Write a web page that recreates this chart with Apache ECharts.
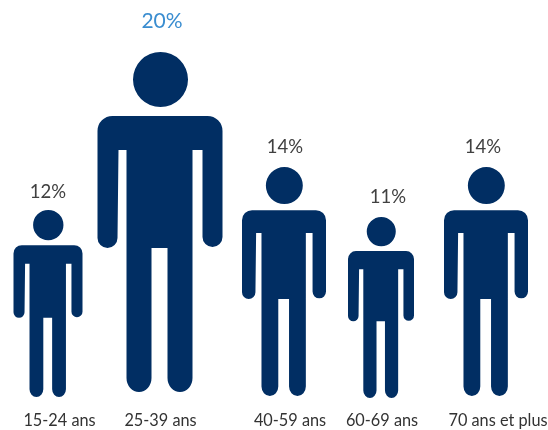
<!DOCTYPE html>
<html>
<head>
<meta charset="utf-8">
<style>html,body{margin:0;padding:0;background:#fff}#c{width:548px;height:430px}</style>
<script src="https://cdn.jsdelivr.net/npm/echarts@6/dist/echarts.min.js"></script>
</head>
<body>
<div id="c"></div>
<script>
const categories = ['15-24 ans', '25-39 ans', '40-59 ans', '60-69 ans', '70 ans et plus'];
const shares = [12, 20, 14, 11, 14];

// Person silhouette in a 125 x 340 box
const PERSON = 'path://M63,0 A27.5,27.5 0 1 1 63,55 A27.5,27.5 0 1 1 63,0 Z ' +
  'M15,64 L110,64 A15,15 0 0 1 125,79 L125,185 A10,10 0 0 1 105,185 L105,98 L95,98 L95,196 L95,326 A12.5,14 0 0 1 70,326 L70,196 L54,196 L54,326 A12.5,14 0 0 1 29,326 L29,98 L21,98 L20,186 A10,10 0 0 1 0,186 L0,79 A15,15 0 0 1 15,64 Z';

// Per-figure layout, kept apart from the data
const figureWidth = [69, 125, 84, 66, 84];
const figureHeightPct = ['91.7%', '100%', '96.2%', '96.8%', '96.2%'];
const figureOffset = [[0, -1], [2, -6], [16, -2], [3, 0], [-2, -2]];
const valueLabelOffset = [[0, 13], [4, -15], [17, 2], [10, 1], [-5, 2]];
const axisLabelShift = [23, 5, 44, 8, 20];

const chart = echarts.init(document.getElementById('c'), null, {renderer: 'canvas'});
chart.setOption({
  animation: false,
  backgroundColor: '#ffffff',
  grid: {left: -7, top: 0, width: 550, height: 398, outerBoundsMode: 'none'},
  xAxis: {
    type: 'category',
    data: categories.map((c, i) => ({
      value: c,
      textStyle: {padding: [0, 0, 0, axisLabelShift[i]]}
    })),
    axisLine: {show: false},
    axisTick: {show: false},
    axisLabel: {
      interval: 0, margin: 15, color: '#333333',
      fontFamily: 'Lato', fontSize: 16.3
    }
  },
  yAxis: {type: 'value', min: 0, max: 23.41, show: false},
  series: [{
    type: 'pictorialBar',
    symbol: PERSON,
    symbolPosition: 'start',
    itemStyle: {color: '#012E63'},
    data: shares.map((v, i) => ({
      value: v,
      symbolSize: [figureWidth[i], figureHeightPct[i]],
      symbolOffset: figureOffset[i],
      label: {
        show: true,
        position: 'top',
        formatter: '{c}%',
        offset: valueLabelOffset[i],
        fontFamily: 'Lato',
        fontSize: v === 20 ? 21 : 18.5,
        color: v === 20 ? '#3A8DD0' : '#404040'
      }
    }))
  }]
});
</script>
</body>
</html>
